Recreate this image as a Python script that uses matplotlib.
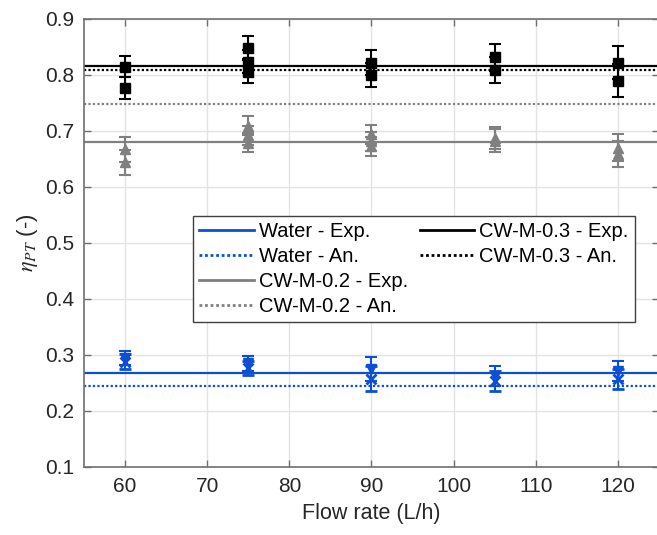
import matplotlib
matplotlib.use("Agg")
import matplotlib.pyplot as plt
from matplotlib.lines import Line2D

plt.rcParams['font.family'] = ['Liberation Sans', 'DejaVu Sans']
plt.rcParams['mathtext.fontset'] = 'stix'

# ---------------- data ----------------
xticks = [60, 70, 80, 90, 100, 110, 120]
yticks = [0.1, 0.2, 0.3, 0.4, 0.5, 0.6, 0.7, 0.8, 0.9]

# CW-M-0.3 experimental repeats (black squares)
cw03_x = [60, 60, 75, 75, 75, 90, 90, 105, 105, 120, 120]
cw03_y = [0.815, 0.777, 0.849, 0.824, 0.806, 0.822, 0.800, 0.832, 0.809, 0.822, 0.790]
cw03_err = [0.019, 0.019, 0.021, 0.021, 0.021, 0.022, 0.022, 0.024, 0.024, 0.029, 0.029]

# CW-M-0.2 experimental repeats (gray triangles)
cw02_x = [60, 60, 75, 75, 75, 90, 90, 90, 105, 105, 120, 120]
cw02_y = [0.667, 0.644, 0.709, 0.692, 0.679, 0.694, 0.682, 0.673, 0.688, 0.683, 0.670, 0.659]
cw02_err = [0.022, 0.022, 0.017, 0.017, 0.017, 0.017, 0.017, 0.017, 0.020, 0.020, 0.024, 0.024]

# Water experimental repeats (blue)
water_a_x = [60, 75, 90, 105, 120]
water_a_y = [0.295, 0.285, 0.275, 0.262, 0.272]
water_a_err = [0.013, 0.013, 0.022, 0.018, 0.018]
water_b_x = [60, 75, 90, 105, 120]
water_b_y = [0.288, 0.277, 0.258, 0.253, 0.257]
water_b_err = [0.013, 0.013, 0.022, 0.018, 0.018]

# Mean experimental / analytical efficiencies (horizontal lines)
water_exp = 0.268
water_an = 0.244
cw02_exp = 0.681
cw02_an = 0.748
cw03_exp = 0.816
cw03_an = 0.809

# ---------------- style ----------------
BLUE = '#0a4fd6'
GRAY = '#808080'
BLACK = '#000000'
DOT = (0, (1, 1))

fig = plt.figure(figsize=(6.57, 5.35), dpi=100)
ax = fig.add_axes([84 / 657, 68 / 535, 575 / 657, 448 / 535])

lw = 1.6
l1 = ax.axhline(water_exp, color=BLUE, lw=lw, ls='-', zorder=2)
l2 = ax.axhline(water_an, color=BLUE, lw=lw, ls=DOT, zorder=2)
l3 = ax.axhline(cw02_exp, color=GRAY, lw=lw, ls='-', zorder=2)
l4 = ax.axhline(cw02_an, color=GRAY, lw=lw, ls=DOT, zorder=2)
l5 = ax.axhline(cw03_exp, color=BLACK, lw=lw, ls='-', zorder=2)
l6 = ax.axhline(cw03_an, color=BLACK, lw=lw, ls=DOT, zorder=2)

ebk = dict(ls='none', capsize=4.5, elinewidth=1.5, capthick=1.5, markersize=6.5, zorder=3)
ax.errorbar(cw03_x, cw03_y, yerr=cw03_err, color=BLACK, marker='s', **ebk)
ax.errorbar(cw02_x, cw02_y, yerr=cw02_err, color=GRAY, marker='^', **ebk)
ax.errorbar(water_a_x, water_a_y, yerr=water_a_err, color=BLUE, marker='v', **ebk)
ax.errorbar(water_b_x, water_b_y, yerr=water_b_err, color=BLUE, marker='x',
            markeredgewidth=2, **ebk)

ax.set_xlim(55, 125)
ax.set_ylim(0.1, 0.9)
ax.set_xticks(xticks)
ax.set_yticks(yticks)
ax.set_yticklabels([f'{v:.1f}' for v in yticks])
ax.grid(True, color='#e3e3e3', lw=1.0, zorder=0)
ax.set_axisbelow(True)
ax.tick_params(direction='in', length=5, width=1, color='#707070',
               labelsize=15, labelcolor='#262626', top=True, right=True, pad=7)
for s in ax.spines.values():
    s.set_color('#707070')
    s.set_linewidth(1.2)

ax.set_xlabel('Flow rate (L/h)', fontsize=15.5, color='#262626', labelpad=5)
ax.set_ylabel(r'$\eta_{PT}$ (-)', fontsize=16, color='#262626', labelpad=4)

blank = Line2D([], [], color='none')
handles = [l1, l2, l3, l4, l5, l6, blank, blank]
labels = ['Water - Exp.', 'Water - An.', 'CW-M-0.2 - Exp.', 'CW-M-0.2 - An.',
          'CW-M-0.3 - Exp.', 'CW-M-0.3 - An.', '', '']
leg = ax.legend(handles, labels, ncol=2, loc='lower left',
                bbox_to_anchor=(0.19, 0.324), fontsize=14.5, handlelength=2.7,
                handletextpad=0.25, columnspacing=0.6, labelspacing=0.3,
                borderpad=0.3, borderaxespad=0, fancybox=False, framealpha=1,
                edgecolor='#404040')
leg.get_frame().set_linewidth(1.0)
for h in leg.legend_handles:
    h.set_linewidth(2.0)

fig.savefig('out.png', dpi=100)
